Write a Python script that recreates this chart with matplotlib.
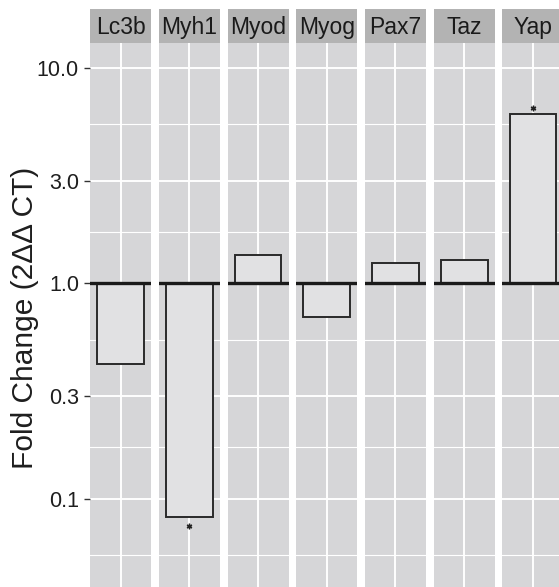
import matplotlib
matplotlib.use("Agg")
import matplotlib.pyplot as plt
import numpy as np

genes = ["Lc3b", "Myh1", "Myod", "Myog", "Pax7", "Taz", "Yap"]
fold_change = [0.42, 0.082, 1.36, 0.70, 1.25, 1.28, 6.1]
significant = [False, True, False, False, False, False, True]
y_ticks = [0.1, 0.3, 1.0, 3.0, 10.0]
y_tick_labels = ["0.1", "0.3", "1.0", "3.0", "10.0"]
y_label = "Fold Change (2ΔΔ CT)"

plt.rcParams['font.family'] = ['Liberation Sans', 'DejaVu Sans']

W, H = 559, 587
fig = plt.figure(figsize=(W / 100, H / 100), dpi=100)
fig.patch.set_facecolor("white")

panel_bg = "#d6d6d8"
strip_bg = "#b3b3b3"
bar_fill = "#e1e1e3"
edge = "#2a2a2a"

x0 = 90
pw = 61
step = 68.75
strip_top = 9
strip_bot = 43
ylim = (0.0388, 13.1)

# minor breaks at log-midpoints
majors_ext = [0.03] + y_ticks + [30]
minors = [10 ** ((np.log10(a) + np.log10(b)) / 2) for a, b in zip(majors_ext[:-1], majors_ext[1:])]

for i, (g, v, s) in enumerate(zip(genes, fold_change, significant)):
    left = (x0 + i * step) / W
    ax = fig.add_axes([left, 0, pw / W, (H - strip_bot) / H])
    ax.set_facecolor(panel_bg)
    ax.set_yscale("log")
    ax.set_ylim(*ylim)
    ax.set_xlim(-0.6, 0.6)
    for sp in ax.spines.values():
        sp.set_visible(False)
    # grid
    for m in minors:
        ax.axhline(m, color="white", lw=0.8, zorder=0.5)
    for t in y_ticks:
        ax.axhline(t, color="white", lw=1.4, zorder=0.6)
    ax.axvline(0, color="white", lw=1.4, zorder=0.6)
    # bar from 1 to value
    lo, hi = min(1.0, v), max(1.0, v)
    ax.bar([0], [hi - lo], bottom=[lo], width=0.92, color=bar_fill,
           edgecolor=edge, linewidth=1.4, zorder=2)
    ax.axhline(1.0, color="#1a1a1a", lw=2.4, zorder=3)
    if s:
        ys = v / 1.10 if v < 1 else v * 1.075
        ax.plot([0], [ys], marker=(6, 2, 0), ms=4, color="#222222", mew=1.0, zorder=4)
    ax.set_xticks([])
    ax.minorticks_off()
    if i == 0:
        ax.set_yticks(y_ticks)
        ax.set_yticklabels(y_tick_labels, fontsize=15.5, color="#1e1e1e")
        ax.tick_params(axis="y", length=4, width=1, color="#333333", pad=4)
    else:
        ax.set_yticks([])
    # strip
    sax = fig.add_axes([left, (H - strip_bot) / H, pw / W, (strip_bot - strip_top) / H])
    sax.set_facecolor(strip_bg)
    sax.set_xticks([])
    sax.set_yticks([])
    for sp in sax.spines.values():
        sp.set_visible(False)
    sax.text(0.5, 0.47, g, ha="center", va="center", fontsize=16.5, color="#1a1a1a",
             transform=sax.transAxes)

fig.text(25 / W, 1 - 318 / H, y_label, rotation=90, ha="center", va="center",
         fontsize=21.5, color="#1e1e1e")

fig.savefig("out.png", dpi=100)
